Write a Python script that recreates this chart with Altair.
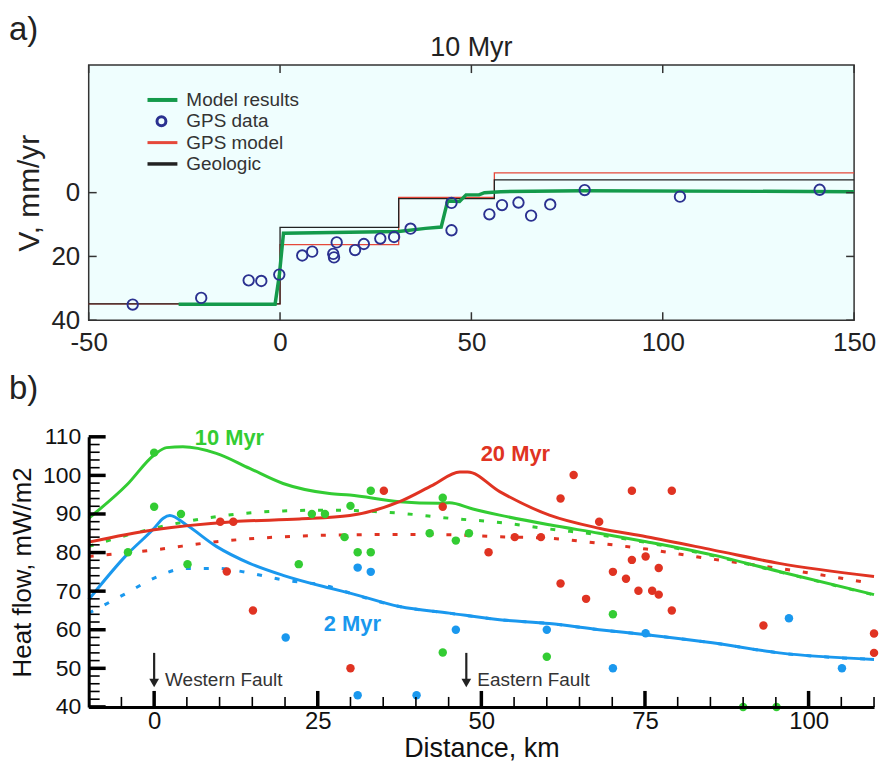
import altair as alt
import pandas as pd

FONT = "Liberation Sans"

# ---------------- panel a) data ----------------
gps_x = [-38.5, -20.6, -8.2, -4.9, -0.2, 5.8, 8.4, 13.9, 14.1, 14.8, 19.6, 21.9, 26.2,
         29.8, 34.1, 44.8, 44.8, 54.7, 58.0, 62.3, 65.6, 70.6, 79.6, 104.5, 141.0]
gps_v = [35.1, 33.0, 27.5, 27.7, 25.7, 19.7, 18.5, 19.2, 20.3, 15.6, 18.0, 16.1, 14.4,
         13.9, 11.3, 3.2, 11.8, 6.8, 3.9, 3.1, 7.2, 3.7, -0.8, 1.25, -0.9]
model_x = [-26.5, -1.3, -0.2, 0.9, 31.0, 38.0, 42.1, 43.8, 46.9, 48.6, 52.0, 53.4, 57.7, 79.0, 150.0]
model_v = [35.0, 35.0, 26.0, 12.7, 12.2, 11.2, 10.8, 2.6, 2.8, 0.7, 0.7, 0.0, -0.3, -0.6, -0.3]
geo_x = [-50, 0, 31, 56, 150]
geo_v = [34.9, 10.9, 1.9, -4.0, -4.0]
gpsm_x = [-50, 0, 31, 56, 150]
gpsm_v = [34.9, 16.3, 1.5, -6.2, -6.2]
a_xticks = [-50, 0, 50, 100, 150]
a_yticks = [0, 20, 40]
legend_labels = ["Model results", "GPS data", "GPS model", "Geologic"]
panel_a_title = "10 Myr"

# ---------------- panel b) data ----------------
ages = ["2 Myr", "10 Myr", "20 Myr"]
age_colors = ["#1a98ee", "#33cc33", "#e03322"]

blue_x = [-10, -4.2, 0, 1.4, 2.4, 4.9, 9.5, 14.6, 19.7, 26.8, 29.9, 37.5, 45.1, 52.8, 60.4, 68, 75.2, 85.3, 95.5, 110]
blue_y = [67.8, 79.4, 86.3, 88.9, 89.6, 87.2, 81.6, 77.2, 74.1, 70.8, 69.5, 66.0, 64.3, 62.6, 61.6, 60.0, 58.7, 56.6, 54.0, 52.3]
green_x = [-10, -4.2, 0, 1.9, 4.4, 9.5, 14.6, 19.7, 26.8, 29.9, 37.5, 43.6, 45.1, 48.7, 52.8, 60.4, 68, 75.2, 85.3, 95.5, 110]
green_y = [88.9, 97.5, 105.3, 107.2, 107.4, 105.7, 101.8, 97.9, 95.3, 94.9, 93.2, 92.8, 92.9, 91.3, 89.7, 87.2, 85.0, 82.8, 79.4, 75.1, 69.1]
red_x = [-10, 0, 12.1, 22.2, 29.9, 37.5, 42.6, 46.7, 47.9, 52.8, 60.4, 68, 75.2, 85.3, 95.5, 110]
red_y = [82.7, 85.9, 88.0, 88.7, 89.6, 93.2, 97.5, 100.9, 100.9, 95.8, 89.7, 86.3, 84.1, 80.7, 77.2, 73.8]

blue_dot_x = [-10, -4.2, 0, 4.9, 9.5, 14.6, 19.7, 26.8, 29.9, 37.5, 45.1, 52.8, 60.4, 68, 75.2, 85.3, 95.5, 110]
blue_dot_y = [64.3, 69.5, 73.4, 75.9, 75.9, 74.7, 72.9, 71.2, 69.5, 66.0, 64.3, 62.6, 61.6, 60.0, 58.7, 56.6, 54.0, 52.3]
green_dot_x = [-10, 0, 9.5, 19.7, 26.8, 37.5, 45.1, 52.8, 60.4, 68, 75.2, 85.3, 95.5, 110]
green_dot_y = [81.6, 86.3, 89.3, 90.8, 91.0, 90.2, 88.9, 87.8, 86.1, 84.6, 82.6, 79.2, 75.0, 69.0]
red_dot_x = [-10, 0, 9.5, 19.7, 29.9, 37.5, 45.1, 52.8, 60.4, 68, 75.2, 85.3, 95.5, 108]
red_dot_y = [79.0, 80.7, 82.8, 84.1, 84.6, 84.7, 84.6, 84.1, 83.7, 82.4, 80.9, 78.3, 75.9, 72.5]

obs_green_x = [0, 0, 4.1, -4, 5.1, 22.1, 24.1, 26.1, 29.1, 30, 33.1, 31.1, 33.1, 42.1, 44.1, 46.1, 48.1, 44.1, 60, 70.1, 90, 95.1]
obs_green_y = [105.9, 91.9, 90, 80.1, 77, 77, 90, 90, 84, 92.1, 96, 80.1, 80.1, 85, 94.2, 83.1, 85, 54.1, 53, 64, 40, 40]
obs_blue_x = [20.1, 31.1, 33.1, 46.1, 60, 31.1, 40.1, 70.1, 75.1, 97, 105.1]
obs_blue_y = [58, 76.1, 75, 60, 60, 43, 43, 50, 59.1, 63, 50]
obs_red_x = [10.1, 12.1, 11.1, 15.1, 35.1, 44.1, 30, 51.1, 55.1, 59.1, 62.1, 64.1, 62.1, 66, 68, 73, 79.1,
             70.1, 72.1, 73, 75.1, 77.1, 74, 76.1, 77.1, 79.1, 93.1, 110, 110]
obs_red_y = [88, 88, 75.1, 65, 96, 91.9, 50, 80.1, 84, 84, 94, 100.1, 72, 68, 88, 96, 96,
             75, 73.2, 78.1, 79, 76, 70.1, 70.1, 69.1, 65, 61.1, 59, 54]

age_label_x = [30.3, 11.5, 55.2]
age_label_y = [61.6, 109.6, 105.6]

fault_names = ["Western Fault", "Eastern Fault"]
fault_x = [0, 47.7]
fault_top = [54, 54]
fault_tip = [46.2, 46.2]
fault_text_y = [45.4, 45.4]

b_xlabels = [0, 25, 50, 75, 100]
b_xminor = [-5, 5, 10, 15, 20, 30, 35, 40, 45, 55, 60, 65, 70, 80, 85, 90, 95, 105, 110]
b_ylabels = [40, 50, 60, 70, 80, 90, 100, 110]
b_yminor = [v for v in range(42, 110, 2) if v % 10 != 0]

# ================= panel a =================
W1, H1 = 768, 256
xa = alt.Scale(domain=[-50, 150], nice=False, zero=False)
ya = alt.Scale(domain=[-40, 40], reverse=True, nice=False, zero=False)
ax_xa = alt.Axis(values=a_xticks, ticks=False, domain=False, grid=False, labelFontSize=26,
                 labelPadding=9, labelColor="#222", labelFlush=False, title=None,
                 labelExpr="'' + datum.value")
ax_ya = alt.Axis(values=a_yticks, ticks=False, domain=False, grid=False, labelFontSize=26,
                 labelPadding=9, labelColor="#222", labelFlush=False, title="V, mm/yr",
                 titleFontSize=30, titleFontWeight="normal", titleColor="#222", titlePadding=6)

XA = lambda f: alt.X(f, type="quantitative", scale=xa, axis=ax_xa)
YA = lambda f: alt.Y(f, type="quantitative", scale=ya, axis=ax_ya)

GREEN_A = "#149a4b"
RED_A = "#e5483a"
BLACK_A = "#222222"
NAVY = "#2b3190"

model_df = pd.DataFrame({"x": model_x, "v": model_v})
geo_df = pd.DataFrame({"x": geo_x, "v": geo_v})
gpsm_df = pd.DataFrame({"x": gpsm_x, "v": gpsm_v})
gps_df = pd.DataFrame({"x": gps_x, "v": gps_v})
axt_df = pd.DataFrame({"x": a_xticks})
ayt_df = pd.DataFrame({"v": a_yticks})

a_layers = [
    alt.Chart(gpsm_df).mark_line(color=RED_A, strokeWidth=1.3, interpolate="step-after").encode(x=XA("x"), y=YA("v")),
    alt.Chart(geo_df).mark_line(color=BLACK_A, strokeWidth=1.3, interpolate="step-after").encode(x=XA("x"), y=YA("v")),
    alt.Chart(model_df).mark_line(color=GREEN_A, strokeWidth=3.5).encode(x=XA("x"), y=YA("v")),
    alt.Chart(gps_df).mark_point(shape="circle", filled=False, color=NAVY, size=110, strokeWidth=1.9,
                                 opacity=1).encode(x=XA("x"), y=YA("v")),
    # inward ticks
    alt.Chart(axt_df).mark_rule(color="#333", strokeWidth=1.5).encode(x=XA("x"), y=alt.value(H1), y2=alt.value(H1 - 8)),
    alt.Chart(axt_df).mark_rule(color="#333", strokeWidth=1.5).encode(x=XA("x"), y=alt.value(0), y2=alt.value(8)),
    alt.Chart(ayt_df).mark_rule(color="#333", strokeWidth=1.5).encode(y=YA("v"), x=alt.value(0), x2=alt.value(8)),
    alt.Chart(ayt_df).mark_rule(color="#333", strokeWidth=1.5).encode(y=YA("v"), x=alt.value(W1), x2=alt.value(W1 - 8)),
]

# legend (manual)
leg_colors = [GREEN_A, NAVY, RED_A, BLACK_A]
leg_widths = [4, 3, 3, 3.5]
for i, lab in enumerate(legend_labels):
    yy = 35 + i * 21.4
    d = pd.DataFrame({"label": [lab]})
    if lab == "GPS data":
        a_layers.append(alt.Chart(d).mark_point(shape="circle", filled=False, color=NAVY, size=80,
                                                strokeWidth=3, opacity=1).encode(x=alt.value(73), y=alt.value(yy)))
    else:
        a_layers.append(alt.Chart(d).mark_rule(color=leg_colors[i], strokeWidth=leg_widths[i]).encode(
            x=alt.value(59), x2=alt.value(89), y=alt.value(yy)))
    a_layers.append(alt.Chart(d).mark_text(align="left", baseline="middle", fontSize=19, color="#333").encode(
        x=alt.value(98), y=alt.value(yy), text="label:N"))

a_layers.append(alt.Chart(pd.DataFrame({"t": [panel_a_title]})).mark_text(
    align="center", baseline="alphabetic", fontSize=27, color="#222").encode(
    x=alt.value(W1 / 2), y=alt.value(-9), text="t:N"))
a_layers.append(alt.Chart(pd.DataFrame({"t": ["a)"]})).mark_text(
    align="left", baseline="alphabetic", fontSize=33, color="#222").encode(
    x=alt.value(-80), y=alt.value(-25), text="t:N"))

top = alt.layer(*a_layers).properties(
    width=W1, height=H1,
    view=alt.ViewBackground(fill="#effefe", stroke="#333", strokeWidth=1.5))

# ================= panel b =================
W2, H2 = 788, 271
xb = alt.Scale(domain=[-10, 110], nice=False, zero=False)
yb = alt.Scale(domain=[40, 110], nice=False, zero=False)
ax_xb = alt.Axis(values=b_xlabels, ticks=False, domain=True, domainColor="black", domainWidth=3,
                 grid=False, labelFontSize=24, labelPadding=3, labelColor="#111", labelFlush=False,
                 title="Distance, km", titleFontSize=27, titleFontWeight="normal", titleColor="#111",
                 titlePadding=2, zindex=1)
ax_yb = alt.Axis(values=b_ylabels, ticks=False, domain=True, domainColor="black", domainWidth=3,
                 grid=False, labelFontSize=23, labelPadding=8, labelColor="#111", labelFlush=False,
                 title="Heat flow, mW/m2", titleFontSize=26, titleFontWeight="normal", titleColor="#111",
                 titlePadding=7, zindex=1)
XB = lambda f: alt.X(f, type="quantitative", scale=xb, axis=ax_xb)
YB = lambda f: alt.Y(f, type="quantitative", scale=yb, axis=ax_yb)
age_scale = alt.Scale(domain=ages, range=age_colors)
CB = alt.Color("age:N", scale=age_scale, legend=None)

def long(series):
    rows = []
    for age, xs, ys in series:
        for xv, yv in zip(xs, ys):
            rows.append({"age": age, "x": xv, "y": yv})
    return pd.DataFrame(rows)

solid_df = long([("2 Myr", blue_x, blue_y), ("10 Myr", green_x, green_y), ("20 Myr", red_x, red_y)])
dot_df = long([("2 Myr", blue_dot_x, blue_dot_y), ("10 Myr", green_dot_x, green_dot_y), ("20 Myr", red_dot_x, red_dot_y)])
obs_df = long([("2 Myr", obs_blue_x, obs_blue_y), ("10 Myr", obs_green_x, obs_green_y), ("20 Myr", obs_red_x, obs_red_y)])
lab_df = pd.DataFrame({"age": ages, "x": age_label_x, "y": age_label_y})
fault_df = pd.DataFrame({"name": fault_names, "x": fault_x, "top": fault_top, "tip": fault_tip, "ty": fault_text_y})

b_layers = [
    alt.Chart(dot_df).mark_line(strokeWidth=3, strokeDash=[5, 13], interpolate="monotone").encode(
        x=XB("x"), y=YB("y"), color=CB),
    alt.Chart(solid_df).mark_line(strokeWidth=3, interpolate="monotone").encode(
        x=XB("x"), y=YB("y"), color=CB),
    alt.Chart(obs_df).mark_circle(size=72, opacity=1).encode(x=XB("x"), y=YB("y"), color=CB),
    alt.Chart(lab_df).mark_text(fontSize=22, fontWeight="bold", baseline="middle", align="center").encode(
        x=XB("x"), y=YB("y"), text="age:N", color=CB),
    alt.Chart(fault_df).mark_rule(color="#222", strokeWidth=2.2).encode(x=XB("x"), y=YB("top"), y2="tip:Q"),
    alt.Chart(fault_df).mark_point(shape="triangle-down", filled=True, color="#222", size=95, opacity=1).encode(
        x=XB("x"), y=YB("tip")),
    alt.Chart(fault_df).mark_text(align="left", baseline="alphabetic", dx=11, fontSize=19, color="#333").encode(
        x=XB("x"), y=YB("ty"), text="name:N"),
    # inward ticks
    alt.Chart(pd.DataFrame({"x": b_xlabels})).mark_rule(color="black", strokeWidth=3.5).encode(
        x=XB("x"), y=alt.value(H2), y2=alt.value(H2 - 16)),
    alt.Chart(pd.DataFrame({"x": b_xminor})).mark_rule(color="black", strokeWidth=1.6).encode(
        x=XB("x"), y=alt.value(H2), y2=alt.value(H2 - 10)),
    alt.Chart(pd.DataFrame({"y": b_ylabels})).mark_rule(color="black", strokeWidth=3.5).encode(
        y=YB("y"), x=alt.value(0), x2=alt.value(17)),
    alt.Chart(pd.DataFrame({"y": b_yminor})).mark_rule(color="black", strokeWidth=1.6).encode(
        y=YB("y"), x=alt.value(0), x2=alt.value(11)),
    alt.Chart(pd.DataFrame({"t": ["b)"]})).mark_text(
        align="left", baseline="alphabetic", fontSize=33, color="#222").encode(
        x=alt.value(-80), y=alt.value(-38), text="t:N"),
]

bottom = alt.layer(*b_layers).properties(
    width=W2, height=H2,
    view=alt.ViewBackground(fill="white", stroke="transparent", strokeWidth=0))

chart = alt.vconcat(top, bottom, spacing=117, bounds="flush").configure(
    font=FONT, padding={"left": 8, "top": 12, "right": 2, "bottom": 2},
    background="white")

chart.save("out.html", embed_options={"renderer": "svg", "actions": False})
